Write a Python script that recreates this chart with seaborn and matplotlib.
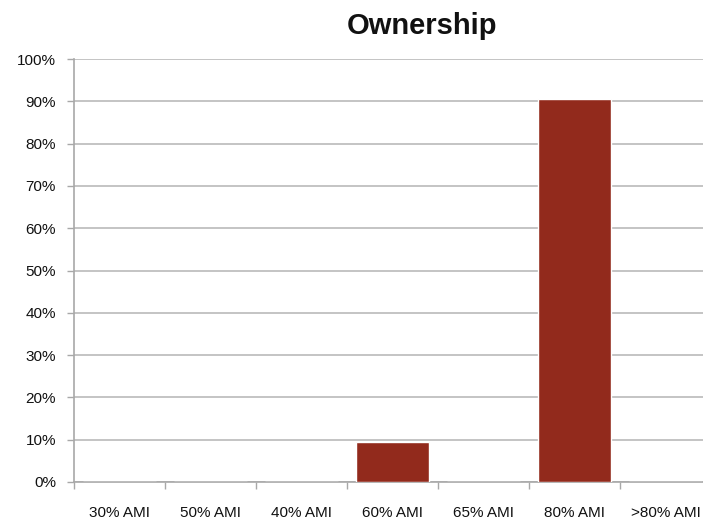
import matplotlib
matplotlib.use("Agg")
import matplotlib.pyplot as plt
import seaborn as sns
import pandas as pd

categories = ["30% AMI", "50% AMI", "40% AMI", "60% AMI", "65% AMI", "80% AMI", ">80% AMI"]
shares = [0.0, 0.0, 0.0, 9.5, 0.0, 90.5, 0.0]
y_ticks = list(range(0, 101, 10))
y_labels = [f"{t}%" for t in y_ticks]

df = pd.DataFrame({"category": categories, "share": shares})

sns.set_theme(style="white")
plt.rcParams["font.family"] = ["Liberation Sans", "DejaVu Sans"]

fig = plt.figure(figsize=(7.03, 5.19), dpi=100)
ax = fig.add_axes([0.1053, 0.0713, 0.906, 0.815])

sns.barplot(data=df, x="category", y="share", color="#922A1C", width=0.8,
            saturation=1, ax=ax, zorder=3)

ax.set_ylim(0, 100)
ax.set_xlim(-0.5, len(categories) - 0.5)
ax.set_yticks(y_ticks)
ax.set_yticklabels(y_labels)
# category boundaries get the tick marks, centres get the labels
ax.set_xticks([i - 0.5 for i in range(len(categories))], minor=False)
ax.set_xticklabels([])
ax.set_xticks(range(len(categories)), minor=True)
ax.set_xticklabels(categories, minor=True)

ax.yaxis.grid(True, color="#C4C4C4", linewidth=1.4, zorder=0)
ax.set_axisbelow(True)
ax.set_xlabel("")
ax.set_ylabel("")

for side in ["top", "right"]:
    ax.spines[side].set_visible(False)
for side in ["left", "bottom"]:
    ax.spines[side].set_color("#A8A8A8")
    ax.spines[side].set_linewidth(1.2)

ax.tick_params(axis="y", which="major", length=5, width=1, color="#A8A8A8",
               pad=8, labelsize=11, labelcolor="#111111", left=True)
ax.tick_params(axis="x", which="major", length=5, width=1, color="#A8A8A8",
               bottom=True)
ax.tick_params(axis="x", which="minor", length=0, pad=17, labelsize=11,
               labelcolor="#111111")

fig.text(0.600, 0.949, "Ownership", ha="center", va="center",
         fontsize=21, fontweight="bold", color="#111111")

fig.savefig("out.png", dpi=100)
